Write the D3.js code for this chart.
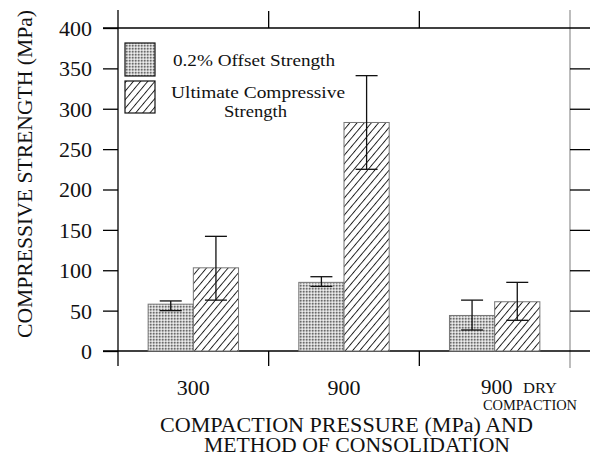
<!DOCTYPE html>
<html>
<head>
<meta charset="utf-8">
<script src="https://cdn.jsdelivr.net/npm/d3@7/dist/d3.min.js"></script>
<style>
body { margin: 0; background: #fff; }
svg { font-family: "Liberation Serif", "DejaVu Serif", serif; }
</style>
</head>
<body>
<svg id="chart" width="590" height="458"></svg>
<script>
// values
var categories = ["300", "900", "900 DRY"];
var offsetStrength = [58, 85, 44];
var offsetLow = [50, 80, 26];
var offsetHigh = [62, 92, 63];
var ultimateStrength = [103, 283, 61];
var ultimateLow = [63, 225, 38];
var ultimateHigh = [142, 341, 85];
var yTicks = [0, 50, 100, 150, 200, 250, 300, 350, 400];

var svg = d3.select("#chart");
var plotLeft = 118, plotRight = 570, plotTop = 28, plotBottom = 351;

var defs = svg.append("defs");
// stippled gray fill
var dots = defs.append("pattern").attr("id", "dots")
    .attr("patternUnits", "userSpaceOnUse").attr("width", 3).attr("height", 3);
dots.append("rect").attr("width", 3).attr("height", 3).attr("fill", "#c8c8c8");
dots.append("rect").attr("width", 1.5).attr("height", 1.5).attr("fill", "#6a6a6a");
dots.append("rect").attr("x", 1.5).attr("y", 1.5).attr("width", 1.5).attr("height", 1.5).attr("fill", "#eeeeee");
// diagonal hatch
var hatch = defs.append("pattern").attr("id", "hatch")
    .attr("patternUnits", "userSpaceOnUse").attr("width", 5.5).attr("height", 5.5)
    .attr("patternTransform", "rotate(40)");
hatch.append("rect").attr("width", 5.5).attr("height", 5.5).attr("fill", "#fff");
hatch.append("line").attr("x1", 0.5).attr("y1", 0).attr("x2", 0.5).attr("y2", 5.5)
    .attr("stroke", "#111").attr("stroke-width", 0.9);

var x = d3.scaleBand().domain(categories).range([plotLeft, plotRight]);
var y = d3.scaleLinear().domain([0, 400]).range([plotBottom, plotTop]);
var barW = x.bandwidth() * 0.3;

// frame lines
svg.append("line").attr("x1", plotLeft).attr("x2", plotLeft).attr("y1", 10).attr("y2", 366)
    .attr("stroke", "#000").attr("stroke-width", 1.3);
svg.append("line").attr("x1", plotRight).attr("x2", plotRight).attr("y1", 10).attr("y2", 368)
    .attr("stroke", "#999").attr("stroke-width", 1.3);
[0, 400].forEach(function(v) {
    svg.append("line").attr("x1", 103).attr("x2", 590).attr("y1", y(v)).attr("y2", y(v))
        .attr("stroke", "#000").attr("stroke-width", 1.3);
});
// category separators (short ticks only)
categories.slice(1).forEach(function(c) {
    svg.append("line").attr("x1", x(c)).attr("x2", x(c)).attr("y1", 11).attr("y2", y(400))
        .attr("stroke", "#000").attr("stroke-width", 1.3);
    svg.append("line").attr("x1", x(c)).attr("x2", x(c)).attr("y1", y(0)).attr("y2", 366)
        .attr("stroke", "#000").attr("stroke-width", 1.3);
});

// left axis
var yAxis = svg.append("g").attr("transform", "translate(" + plotLeft + ",0)")
    .call(d3.axisLeft(y).tickValues(yTicks).tickSize(15).tickPadding(11));
yAxis.select(".domain").remove();
yAxis.selectAll("line").attr("stroke-width", 1.3);
yAxis.selectAll("text").attr("font-size", 22).attr("font-family", "Liberation Serif")
    .attr("fill", "#111").attr("dy", "0.34em");

// right ticks
var rAxis = svg.append("g").attr("transform", "translate(" + plotRight + ",0)")
    .call(d3.axisRight(y).tickValues(yTicks.slice(1, -1)).tickSize(20).tickFormat(""));
rAxis.select(".domain").remove();
rAxis.selectAll("line").attr("stroke-width", 1.3);

// bars
var g = svg.append("g");
function drawSeries(vals, lo, hi, fill, dx) {
    g.selectAll(null).data(vals).enter().append("rect")
        .attr("x", function(d, i) { return x(categories[i]) + x.bandwidth() / 2 + dx; })
        .attr("y", function(d) { return y(d); })
        .attr("width", barW)
        .attr("height", function(d) { return y(0) - y(d); })
        .attr("fill", fill).attr("stroke", "#777").attr("stroke-width", 1);
    vals.forEach(function(d, i) {
        var cx = x(categories[i]) + x.bandwidth() / 2 + dx + barW / 2;
        g.append("line").attr("x1", cx).attr("x2", cx).attr("y1", y(lo[i])).attr("y2", y(hi[i]))
            .attr("stroke", "#111").attr("stroke-width", 1.3);
        [lo[i], hi[i]].forEach(function(v) {
            g.append("line").attr("x1", cx - 11).attr("x2", cx + 11).attr("y1", y(v)).attr("y2", y(v))
                .attr("stroke", "#111").attr("stroke-width", 1.3);
        });
    });
}
drawSeries(offsetStrength, offsetLow, offsetHigh, "url(#dots)", -barW);
drawSeries(ultimateStrength, ultimateLow, ultimateHigh, "url(#hatch)", 0);

// category labels
categories.forEach(function(c, i) {
    var cx = x(c) + x.bandwidth() / 2;
    if (i < 2) {
        svg.append("text").attr("x", cx).attr("y", 395).attr("text-anchor", "middle")
            .attr("font-size", 22).attr("fill", "#111").text(c);
    } else {
        svg.append("text").attr("x", 481).attr("y", 394)
            .attr("font-size", 21).attr("fill", "#111").text("900");
        svg.append("text").attr("x", 523).attr("y", 393)
            .attr("textLength", 34).attr("lengthAdjust", "spacingAndGlyphs")
            .attr("font-size", 15).attr("fill", "#111").text("DRY");
        svg.append("text").attr("x", 483).attr("y", 410)
            .attr("textLength", 94).attr("lengthAdjust", "spacingAndGlyphs")
            .attr("font-size", 14).attr("fill", "#111").text("COMPACTION");
    }
});

// axis titles
svg.append("text").attr("x", 160).attr("y", 432).attr("font-size", 20)
    .attr("textLength", 373).attr("lengthAdjust", "spacingAndGlyphs")
    .attr("fill", "#111").text("COMPACTION PRESSURE (MPa) AND");
svg.append("text").attr("x", 204).attr("y", 452).attr("font-size", 20)
    .attr("textLength", 306).attr("lengthAdjust", "spacingAndGlyphs")
    .attr("fill", "#111").text("METHOD OF CONSOLIDATION");
svg.append("text").attr("transform", "translate(32,338) rotate(-90)").attr("font-size", 21)
    .attr("textLength", 328).attr("lengthAdjust", "spacingAndGlyphs")
    .attr("fill", "#111").text("COMPRESSIVE  STRENGTH  (MPa)");

// legend
svg.append("rect").attr("x", 125).attr("y", 43).attr("width", 30).attr("height", 33)
    .attr("fill", "url(#dots)").attr("stroke", "#111").attr("stroke-width", 1.2);
svg.append("rect").attr("x", 125).attr("y", 81).attr("width", 30).attr("height", 32)
    .attr("fill", "url(#hatch)").attr("stroke", "#111").attr("stroke-width", 1.2);
svg.append("text").attr("x", 173).attr("y", 66).attr("font-size", 17)
    .attr("textLength", 162).attr("lengthAdjust", "spacingAndGlyphs")
    .attr("fill", "#111").text("0.2% Offset Strength");
svg.append("text").attr("x", 171).attr("y", 98).attr("font-size", 17)
    .attr("textLength", 174).attr("lengthAdjust", "spacingAndGlyphs")
    .attr("fill", "#111").text("Ultimate Compressive");
svg.append("text").attr("x", 224).attr("y", 117).attr("font-size", 17)
    .attr("textLength", 63).attr("lengthAdjust", "spacingAndGlyphs")
    .attr("fill", "#111").text("Strength");
</script>
</body>
</html>
